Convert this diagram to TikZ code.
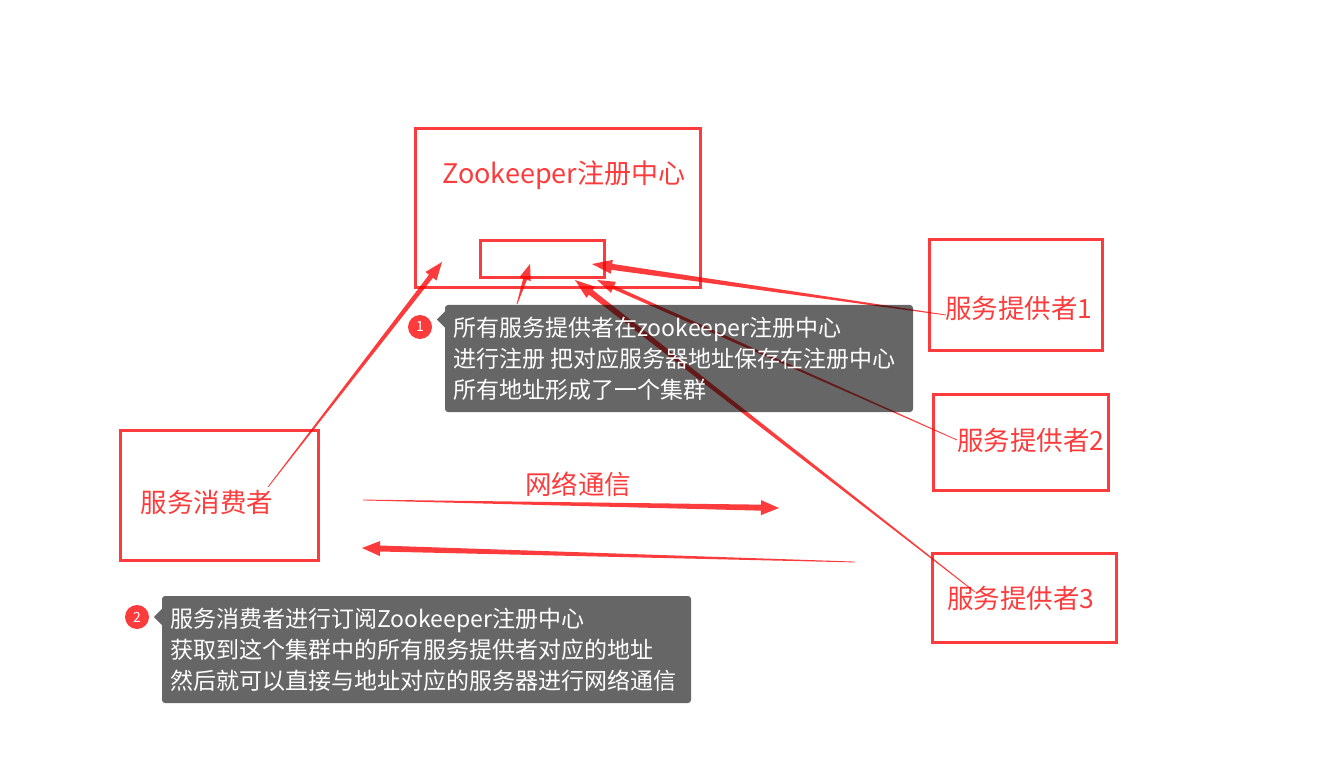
\documentclass[tikz,border=0pt]{standalone}
\usepackage{fontspec}
\setmainfont{Noto Sans CJK SC}
\usetikzlibrary{calc}
\definecolor{zkred}{RGB}{252,60,60}
\definecolor{tipgray}{RGB}{102,102,102}
% tapered arrow: tail, head, shaft half width, head half width, head length
\newcommand\taperarrow[5]{%
  \path ($(#2)!#5!(#1)$) coordinate (tb);
  \fill[zkred] ($(#1)!0.4pt!90:(#2)$) -- ($(tb)!#3!-90:(#1)$) -- ($(tb)!#4!-90:(#1)$) -- (#2)
    -- ($(tb)!#4!90:(#1)$) -- ($(tb)!#3!90:(#1)$) -- ($(#1)!0.4pt!-90:(#2)$) -- cycle;}
\begin{document}
\begin{tikzpicture}[x=1pt,y=-1pt,inner sep=0pt,
  redbox/.style={draw=zkred,line width=3pt},
  redtext/.style={text=zkred,font=\fontsize{26.5}{30}\selectfont},
  tipbox/.style={fill=tipgray,rounded corners=3pt},
  tiptext/.style={text=white,align=left,anchor=west,font=\fontsize{23}{31}\selectfont},
  badge/.style={circle,fill=zkred,minimum size=24pt,text=white,font=\fontsize{14}{14}\selectfont}]
\useasboundingbox (0,0) rectangle (1324,775);
\node[redbox,minimum width=285pt,minimum height=159pt] (zk) at (557.5,208.5) {};
\node[redtext,font=\fontsize{27}{30}\selectfont] (zktitle) at (564,175) {Zookeeper注册中心};
\node[redbox,minimum width=124pt,minimum height=37pt] (cluster) at (542,259.5) {};
\node[redbox,minimum width=173pt,minimum height=110pt] (pa) at (1015.5,295) {};
\node[redtext] (palabel) at (1019,308) {服务提供者1};
\node[redbox,minimum width=175pt,minimum height=96pt] (pb) at (1020.5,442) {};
\node[redtext] (pblabel) at (1031,440) {服务提供者2};
\node[redbox,minimum width=184pt,minimum height=89pt] (pc) at (1024,597.5) {};
\node[redtext] (pclabel) at (1021,598) {服务提供者3};
\node[redbox,minimum width=198pt,minimum height=130pt] (cons) at (219,495) {};
\node[redtext] (conslabel) at (207,502) {服务消费者};
\node[redtext] (net) at (578,484) {网络通信};

\node[tipbox,minimum width=468pt,minimum height=107pt] (tipa) at (679,358.5) {};
\fill[tipgray] ($(tipa.west)+(0,-31)$) -- ++(-8,-8) -- ++(8,-8) -- cycle;
\node[tipbox,minimum width=529pt,minimum height=107pt] (tipb) at (426.5,649.5) {};
\fill[tipgray] ($(tipb.west)+(0,-24.5)$) -- ++(-8,-8) -- ++(8,-8) -- cycle;

\coordinate (constail) at (268,487);
\coordinate (zkhead) at (442,262);
\coordinate (tiptail) at (517,304);
\coordinate (clhead) at (530,264);
\coordinate (patail) at (946,315);
\coordinate (pahead) at (592,264);
\coordinate (pbtail) at (957,440);
\coordinate (pbhead) at (597,280);
\coordinate (pctail) at (975,592);
\coordinate (pchead) at (575,280);
\coordinate (outtail) at (363,500);
\coordinate (outhead) at (779,508);
\coordinate (backtail) at (855,562);
\coordinate (backhead) at (362,548);
\begin{scope}[blend mode=multiply]
\taperarrow{constail}{zkhead}{2.5pt}{7pt}{18pt}
\taperarrow{tiptail}{clhead}{2pt}{6pt}{16pt}
\taperarrow{patail}{pahead}{3pt}{7pt}{20pt}
\taperarrow{pbtail}{pbhead}{1.8pt}{6pt}{18pt}
\taperarrow{pctail}{pchead}{3pt}{7pt}{20pt}
\taperarrow{outtail}{outhead}{3pt}{7.5pt}{18pt}
\taperarrow{backtail}{backhead}{3pt}{7.5pt}{18pt}
\end{scope}

\node[tiptext] (tipatext) at (453,359) {所有服务提供者在zookeeper注册中心\\进行注册 把对应服务器地址保存在注册中心\\所有地址形成了一个集群};
\node[tiptext] (tipbtext) at (170,649.5) {服务消费者进行订阅Zookeeper注册中心\\获取到这个集群中的所有服务提供者对应的地址\\然后就可以直接与地址对应的服务器进行网络通信};
\node[badge] (one) at (420,327) {1};
\node[badge] (two) at (137,617) {2};
\end{tikzpicture}
\end{document}
